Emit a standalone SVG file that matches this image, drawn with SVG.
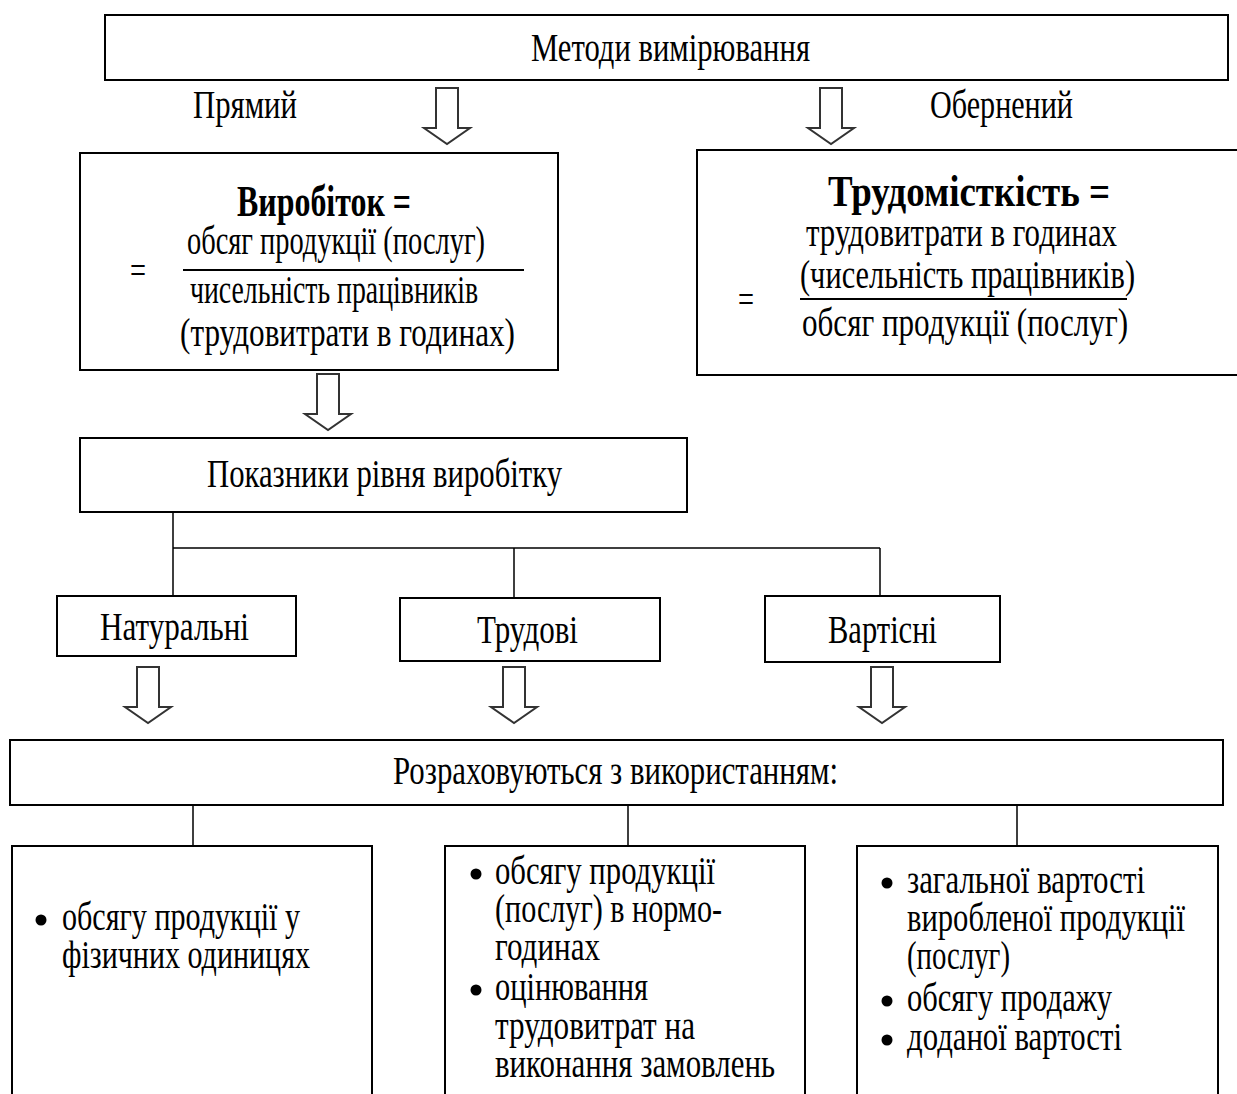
<svg xmlns="http://www.w3.org/2000/svg" width="1237" height="1094" viewBox="0 0 1237 1094">
<style>
.box{fill:#fff;stroke:#000;stroke-width:2}
.t{font-family:"Liberation Serif","Times New Roman",serif;font-size:39px;fill:#000}
.b{font-weight:bold;font-size:45px}
.arr{fill:#fff;stroke:#333;stroke-width:2;stroke-linejoin:miter}
.ln{stroke:#000;stroke-width:1.5;fill:none}
.fr{stroke:#000;stroke-width:2}
</style>
<defs>
<path id="arrow" class="arr" d="M-11,0 H11 V40 H23 L0,56 L-23,40 H-11 Z"/>
</defs>

<g id="connectors">
<use href="#arrow" x="447" y="88"/>
<use href="#arrow" x="831" y="88"/>
<use href="#arrow" x="328" y="374"/>
<use href="#arrow" x="148" y="667"/>
<use href="#arrow" x="514" y="667"/>
<use href="#arrow" x="882" y="667"/>
<path class="ln" d="M173,512 V596 M173,548 H880 M514,548 V598 M880,548 V596"/>
<path class="ln" d="M193,805 V846 M628,805 V846 M1017,805 V846"/>
</g>

<g id="methods">
<rect class="box" x="105" y="15" width="1123" height="65"/>
<text class="t" x="531" y="61" textLength="279" lengthAdjust="spacingAndGlyphs">Методи вимірювання</text>
</g>
<g id="label-direct">
<text class="t" x="193" y="118" textLength="104" lengthAdjust="spacingAndGlyphs">Прямий</text>
</g>
<g id="label-inverse">
<text class="t" x="930" y="118" textLength="143" lengthAdjust="spacingAndGlyphs">Обернений</text>
</g>

<g id="output-formula">
<rect class="box" x="80" y="153" width="478" height="217"/>
<text class="t b" x="237" y="216" textLength="174" lengthAdjust="spacingAndGlyphs">Виробіток  =</text>
<text class="t" x="187" y="254" textLength="298" lengthAdjust="spacingAndGlyphs">обсяг продукції (послуг)</text>
<line class="fr" x1="183" y1="270" x2="524" y2="270"/>
<text class="t" x="130" y="284" textLength="16" lengthAdjust="spacingAndGlyphs">=</text>
<text class="t" x="190" y="303" textLength="288" lengthAdjust="spacingAndGlyphs">чисельність працівників</text>
<text class="t" x="180" y="346" textLength="335" lengthAdjust="spacingAndGlyphs">(трудовитрати в годинах)</text>
</g>

<g id="labour-intensity">
<rect class="box" x="697" y="150" width="545" height="225"/>
<text class="t b" x="828" y="206" textLength="282" lengthAdjust="spacingAndGlyphs">Трудомісткість =</text>
<text class="t" x="806" y="246" textLength="311" lengthAdjust="spacingAndGlyphs">трудовитрати в годинах</text>
<text class="t" x="800" y="288" textLength="335" lengthAdjust="spacingAndGlyphs">(чисельність працівників)</text>
<line class="fr" x1="800" y1="299" x2="1127" y2="299"/>
<text class="t" x="738" y="313" textLength="16" lengthAdjust="spacingAndGlyphs">=</text>
<text class="t" x="802" y="336" textLength="326" lengthAdjust="spacingAndGlyphs">обсяг продукції (послуг)</text>
</g>

<g id="indicators">
<rect class="box" x="80" y="438" width="607" height="74"/>
<text class="t" x="207" y="487" textLength="355" lengthAdjust="spacingAndGlyphs">Показники рівня виробітку</text>
</g>

<g id="natural">
<rect class="box" x="57" y="596" width="239" height="60"/>
<text class="t" x="100" y="640" textLength="149" lengthAdjust="spacingAndGlyphs">Натуральні</text>
</g>
<g id="labour">
<rect class="box" x="400" y="598" width="260" height="63"/>
<text class="t" x="477" y="643" textLength="101" lengthAdjust="spacingAndGlyphs">Трудові</text>
</g>
<g id="value">
<rect class="box" x="765" y="596" width="235" height="66"/>
<text class="t" x="828" y="643" textLength="109" lengthAdjust="spacingAndGlyphs">Вартісні</text>
</g>

<g id="calculated">
<rect class="box" x="10" y="740" width="1213" height="65"/>
<text class="t" x="393" y="784" textLength="445" lengthAdjust="spacingAndGlyphs">Розраховуються з використанням:</text>
</g>

<g id="list-natural">
<rect class="box" x="12" y="846" width="360" height="260"/>
<circle cx="41" cy="920" r="5.5"/>
<text class="t" x="62" y="930" textLength="238" lengthAdjust="spacingAndGlyphs">обсягу продукції у</text>
<text class="t" x="62" y="968" textLength="248" lengthAdjust="spacingAndGlyphs">фізичних одиницях</text>
</g>

<g id="list-labour">
<rect class="box" x="445" y="846" width="360" height="260"/>
<circle cx="476" cy="874" r="5.5"/>
<text class="t" x="495" y="884" textLength="220" lengthAdjust="spacingAndGlyphs">обсягу продукції</text>
<text class="t" x="495" y="922" textLength="227" lengthAdjust="spacingAndGlyphs">(послуг) в нормо-</text>
<text class="t" x="495" y="960" textLength="105" lengthAdjust="spacingAndGlyphs">годинах</text>
<circle cx="476" cy="990" r="5.5"/>
<text class="t" x="495" y="1000" textLength="153" lengthAdjust="spacingAndGlyphs">оцінювання</text>
<text class="t" x="495" y="1039" textLength="200" lengthAdjust="spacingAndGlyphs">трудовитрат на</text>
<text class="t" x="495" y="1077" textLength="280" lengthAdjust="spacingAndGlyphs">виконання замовлень</text>
</g>

<g id="list-value">
<rect class="box" x="857" y="846" width="361" height="260"/>
<circle cx="887" cy="883" r="5.5"/>
<text class="t" x="907" y="893" textLength="238" lengthAdjust="spacingAndGlyphs">загальної вартості</text>
<text class="t" x="907" y="931" textLength="278" lengthAdjust="spacingAndGlyphs">виробленої продукції</text>
<text class="t" x="907" y="969" textLength="103" lengthAdjust="spacingAndGlyphs">(послуг)</text>
<circle cx="887" cy="1001" r="5.5"/>
<text class="t" x="907" y="1011" textLength="205" lengthAdjust="spacingAndGlyphs">обсягу продажу</text>
<circle cx="887" cy="1040" r="5.5"/>
<text class="t" x="907" y="1050" textLength="215" lengthAdjust="spacingAndGlyphs">доданої вартості</text>
</g>
</svg>
